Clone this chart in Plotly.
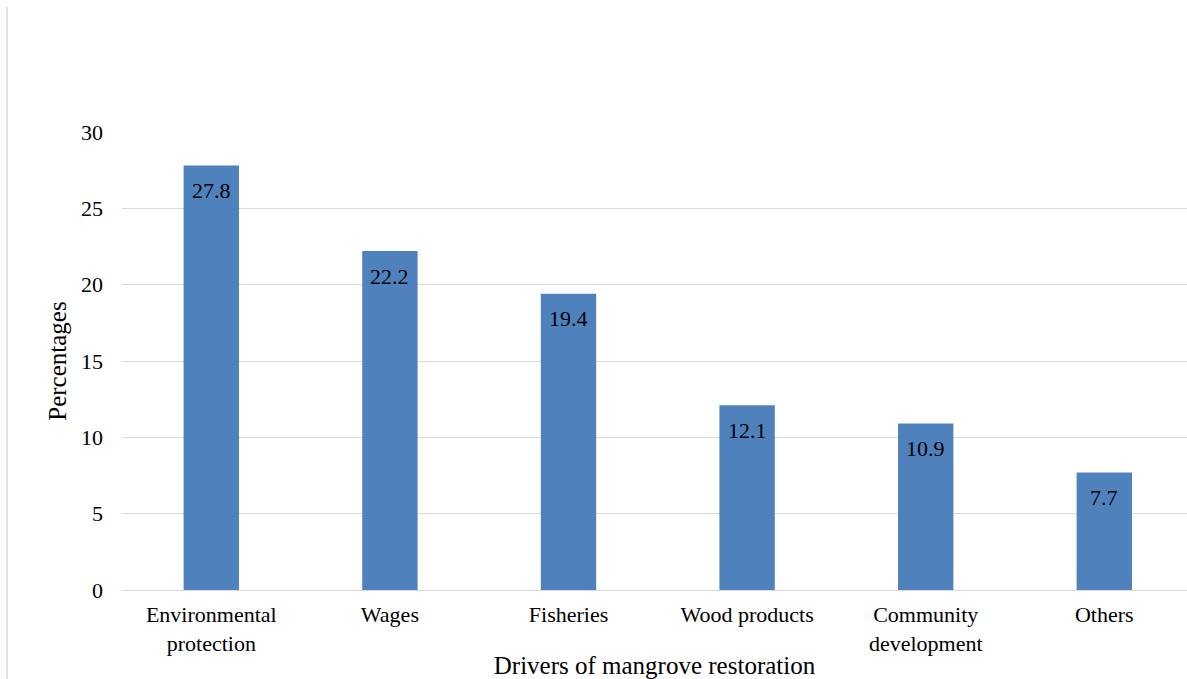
import plotly.graph_objects as go

categories = ["Environmental<br>protection", "Wages", "Fisheries", "Wood products",
              "Community<br>development", "Others"]
values = [27.8, 22.2, 19.4, 12.1, 10.9, 7.7]
value_labels = ["27.8", "22.2", "19.4", "12.1", "10.9", "7.7"]
y_ticks = [0, 5, 10, 15, 20, 25, 30]

W, H = 1187, 679
L, R, T, B = 122, 0, 132, 89
font = "Liberation Serif"
x_idx = list(range(len(categories)))

fig = go.Figure(go.Bar(
    x=x_idx, y=values,
    marker=dict(color="#4f81bd", line=dict(width=0)),
    width=0.31, hoverinfo="y",
))

annotations = [
    dict(x=xi, y=v, text=t, showarrow=False, xref="x", yref="y",
         yanchor="middle", xanchor="center", yshift=-25,
         font=dict(family=font, size=22, color="black"))
    for xi, v, t in zip(x_idx, values, value_labels)
]

plot_w = W - L - R
plot_h = H - T - B
units = plot_w / 178.6
fig.update_layout(
    width=W, height=H,
    margin=dict(l=L, r=R, t=T, b=B),
    paper_bgcolor="white", plot_bgcolor="white",
    font=dict(family=font, size=22, color="black"),
    showlegend=False,
    annotations=annotations,
    xaxis=dict(
        tickmode="array", tickvals=x_idx, ticktext=categories,
        range=[-0.5, -0.5 + units], showgrid=False, zeroline=False,
        showline=False, ticks="", ticklen=0, ticklabelstandoff=9,
        title=dict(text="Drivers of mangrove restoration", standoff=2,
                   font=dict(size=25)),
        tickfont=dict(size=22),
    ),
    yaxis=dict(
        range=[0, 30], tickvals=y_ticks, showgrid=True, gridcolor="#d9d9d9",
        gridwidth=1, zeroline=True, zerolinecolor="#d9d9d9", zerolinewidth=1,
        showline=False, ticks="", ticklen=0, ticklabelstandoff=18,
        tickfont=dict(size=22),
        title=dict(text="Percentages", standoff=7, font=dict(size=25)),
    ),
    shapes=[dict(type="line", xref="paper", yref="paper",
                 x0=(7 - L) / plot_w, x1=(7 - L) / plot_w,
                 y0=-B / plot_h, y1=(H - B - 7) / plot_h,
                 line=dict(color="#d9d9d9", width=1.5))],
)

fig.write_html("out.html")
